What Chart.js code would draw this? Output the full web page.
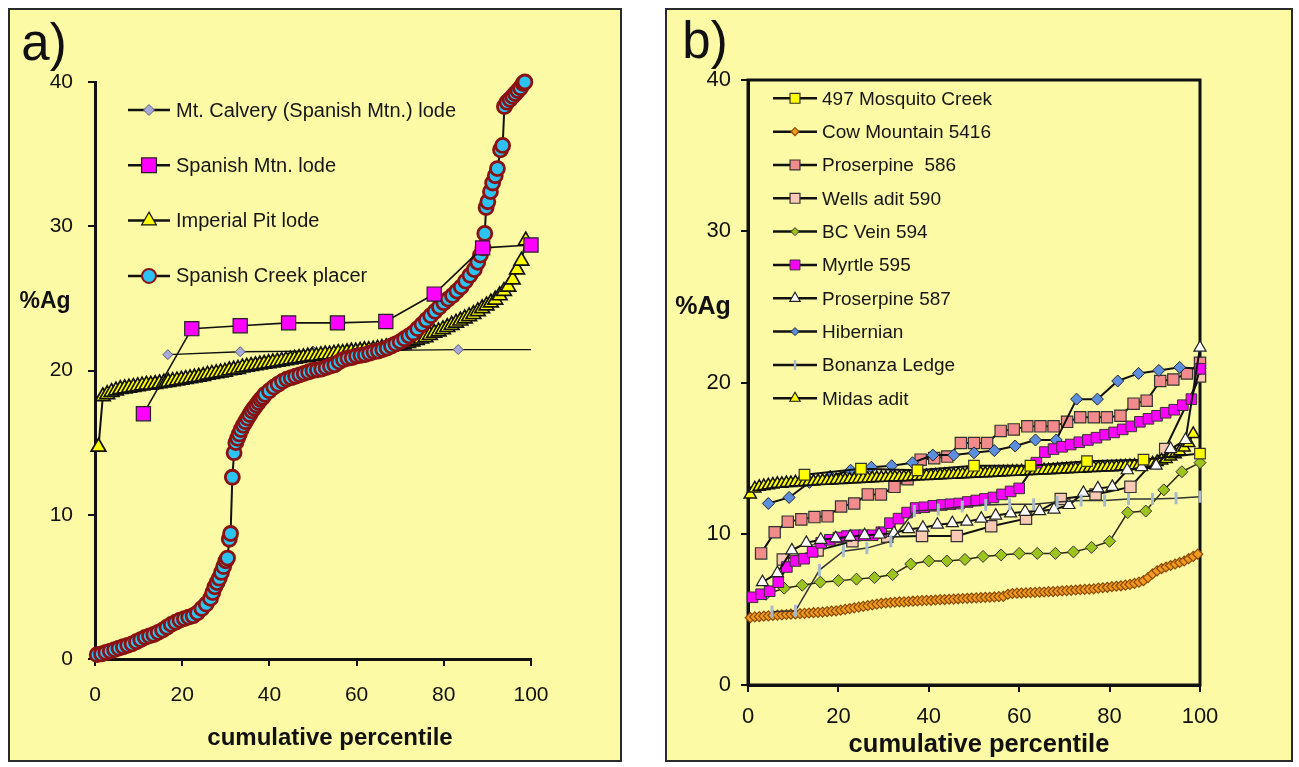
<!DOCTYPE html>
<html>
<head>
<meta charset="utf-8">
<title>%Ag versus cumulative percentile</title>
<script src="https://cdn.jsdelivr.net/npm/chart.js@4.4.1/dist/chart.umd.min.js"></script>
<style>
html,body{margin:0;padding:0;background:#ffffff;}
body{position:relative;width:1299px;height:767px;overflow:hidden;font-family:"Liberation Sans",Arial,Helvetica,sans-serif;color:#111;}
.panel{position:absolute;box-sizing:border-box;border:2px solid #2a2a2a;background:#FCFAA4;}
.panel canvas{position:absolute;left:0;top:0;}
.t{position:absolute;transform:translate(-50%,-50%);white-space:nowrap;line-height:1;color:#111;}
</style>
</head>
<body>
<div class="panel" style="left:8px;top:8px;width:614px;height:754px;"><canvas id="chartA" width="610" height="750"></canvas></div>
<div class="panel" style="left:665px;top:8px;width:628px;height:754px;"><canvas id="chartB" width="624" height="750"></canvas></div>
<div class="t" style="left:44px;top:42px;font-size:51px;">a)</div>
<div class="t" style="left:705px;top:40px;font-size:51px;">b)</div>
<div class="t" style="left:45px;top:300px;font-size:23px;font-weight:bold;">%Ag</div>
<div class="t" style="left:703px;top:305px;font-size:25px;font-weight:bold;">%Ag</div>
<div class="t" style="left:330px;top:737px;font-size:24px;font-weight:bold;">cumulative percentile</div>
<div class="t" style="left:979px;top:744px;font-size:25.5px;font-weight:bold;">cumulative percentile</div>
<script>
// ================= DATA =================
// shared tick values
const xTickValues = [0, 20, 40, 60, 80, 100];
const yTickValues = [0, 10, 20, 30, 40];

// ---------- panel a ----------
const seriesNamesA = ["Mt. Calvery (Spanish Mtn.) lode", "Spanish Mtn. lode", "Imperial Pit lode", "Spanish Creek placer"];

const calveryX = [16.7, 33.3, 50.0, 66.7, 83.3, 100];
const calveryY = [21.1, 21.3, 21.35, 21.4, 21.45, 21.45];

const spanMtnX = [11.1, 22.2, 33.3, 44.4, 55.6, 66.7, 77.8, 88.9, 100];
const spanMtnY = [17.0, 22.9, 23.1, 23.3, 23.3, 23.4, 25.3, 28.5, 28.7];

const imperialX = [
 0.8,1.8,2.8,3.8,4.8,5.8,6.8,7.8,8.8,9.8,
 10.8,11.8,12.8,13.8,14.8,15.8,16.8,17.8,18.8,19.8,
 20.8,21.8,22.8,23.8,24.8,25.8,26.8,27.8,28.8,29.8,
 30.8,31.8,32.8,33.8,34.8,35.8,36.8,37.8,38.8,39.8,
 40.8,41.8,42.8,43.8,44.8,45.8,46.8,47.8,48.8,49.8,
 50.8,51.8,52.8,53.8,54.8,55.8,56.8,57.8,58.8,59.8,
 60.8,61.8,62.8,63.8,64.8,65.8,66.8,67.8,68.8,69.8,
 70.8,71.8,72.8,73.8,74.8,75.8,76.8,77.8,78.8,79.8,
 80.8,81.8,82.8,83.8,84.8,85.8,86.8,87.8,88.8,89.8,
 90.8,91.8,92.8,93.8,94.8,95.8,96.8,97.8,98.8];
const imperialY = [
 14.7,18.2,18.35,18.5,18.6,18.7,18.75,18.8,18.85,18.9,
 18.95,19.0,19.0,19.05,19.1,19.15,19.2,19.25,19.3,19.35,
 19.4,19.45,19.5,19.55,19.6,19.7,19.75,19.8,19.85,19.9,
 20.0,20.05,20.1,20.2,20.25,20.3,20.35,20.4,20.45,20.5,
 20.55,20.6,20.65,20.7,20.75,20.8,20.85,20.9,20.95,21.0,
 21.0,21.05,21.1,21.1,21.15,21.2,21.2,21.25,21.3,21.3,
 21.35,21.4,21.4,21.45,21.5,21.55,21.6,21.65,21.7,21.75,
 21.8,21.9,22.0,22.1,22.2,22.3,22.45,22.6,22.7,22.85,
 23.0,23.15,23.3,23.45,23.6,23.75,23.9,24.1,24.3,24.5,
 24.7,24.9,25.2,25.5,25.8,26.3,27.0,27.6,29.0];

const placerX = [
 0.5,1.5,2.5,3.5,4.5,5.5,6.5,7.5,8.5,9.5,
 10.5,11.5,12.5,13.5,14.5,15.5,16.5,17.5,18.5,19.5,
 20.5,21.5,22.5,23.5,24.5,25.5,26.5,27.0,27.5,28.0,
 28.5,29.0,29.5,30.0,30.4,30.8,31.1,31.5,31.9,32.3,
 32.7,33.1,33.5,34.0,34.5,35.0,35.5,36.0,36.5,37.0,
 37.5,38.0,38.5,39.0,40,41,42,43,44,45,
 46,47,48,49,50,51,52,53,54,55,
 56,57,58,59,60,61,62,63,64,65,
 66,67,68,69,70,71,72,73,74,75,
 76,77,78,79,80,81,82,83,84,85,
 86,87,87.8,88.4,89.0,89.4,89.7,90.1,90.7,91.2,
 91.8,92.3,93.0,93.5,93.9,94.5,95.2,95.8,96.4,97.0,
 97.6,98.2,98.6];
const placerY = [
 0.3,0.35,0.45,0.55,0.65,0.75,0.85,0.95,1.05,1.2,
 1.35,1.5,1.6,1.7,1.85,2.0,2.2,2.4,2.55,2.7,
 2.8,2.9,3.0,3.2,3.5,3.8,4.2,4.6,5.0,5.3,
 5.6,6.0,6.4,6.8,7.0,8.3,8.7,12.6,14.3,15.0,
 15.3,15.6,15.9,16.2,16.45,16.7,16.95,17.2,17.4,17.6,
 17.8,18.0,18.15,18.35,18.6,18.85,19.05,19.25,19.4,19.5,
 19.6,19.7,19.8,19.9,20.0,20.05,20.1,20.2,20.3,20.4,
 20.6,20.75,20.85,20.9,21.0,21.05,21.1,21.2,21.3,21.35,
 21.45,21.55,21.7,21.85,22.0,22.2,22.4,22.6,22.9,23.2,
 23.5,23.8,24.1,24.4,24.7,24.95,25.2,25.5,25.8,26.2,
 26.6,27.0,27.5,28.0,28.5,29.5,31.3,31.7,32.4,33.0,
 33.5,34.0,35.3,35.6,38.3,38.6,38.8,39.0,39.2,39.4,
 39.6,39.9,40.0];

// ---------- panel b ----------
const seriesNamesB = ["497 Mosquito Creek", "Cow Mountain 5416", "Proserpine  586", "Wells adit 590", "BC Vein 594",
  "Myrtle 595", "Proserpine 587", "Hibernian", "Bonanza Ledge", "Midas adit"];

const mosquitoX = [12.5, 25, 37.5, 50, 62.5, 75, 87.5, 100];
const mosquitoY = [13.9, 14.3, 14.2, 14.5, 14.5, 14.8, 14.9, 15.3];

const cowX = [
 0.5,1.5,2.5,3.5,4.5,5.5,6.5,7.5,8.5,9.5,
 10.5,11.5,12.5,13.5,14.5,15.5,16.5,17.5,18.5,19.5,
 20.5,21.5,22.5,23.5,24.5,25.5,26.5,27.5,28.5,29.5,
 30.5,31.5,32.5,33.5,34.5,35.5,36.5,37.5,38.5,39.5,
 40.5,41.5,42.5,43.5,44.5,45.5,46.5,47.5,48.5,49.5,
 50.5,51.5,52.5,53.5,54.5,55.5,56.5,57.5,58.5,59.5,
 60.5,61.5,62.5,63.5,64.5,65.5,66.5,67.5,68.5,69.5,
 70.5,71.5,72.5,73.5,74.5,75.5,76.5,77.5,78.5,79.5,
 80.5,81.5,82.5,83.5,84.5,85.5,86.5,87.5,88.5,89.5,
 90.5,91.5,92.5,93.5,94.5,95.5,96.5,97.5,98.5,99.5];
const cowY = [
 4.45,4.5,4.52,4.55,4.57,4.6,4.62,4.64,4.66,4.68,
 4.7,4.72,4.74,4.76,4.78,4.8,4.82,4.85,4.88,4.9,
 4.95,5.0,5.05,5.1,5.15,5.2,5.25,5.3,5.35,5.4,
 5.42,5.45,5.47,5.5,5.5,5.52,5.54,5.56,5.58,5.6,
 5.6,5.62,5.64,5.65,5.67,5.68,5.7,5.72,5.73,5.75,
 5.76,5.78,5.79,5.8,5.82,5.84,5.86,6.0,6.05,6.07,
 6.08,6.1,6.11,6.12,6.14,6.15,6.17,6.18,6.2,6.22,
 6.24,6.26,6.28,6.3,6.32,6.34,6.36,6.4,6.43,6.46,
 6.5,6.53,6.56,6.6,6.65,6.72,6.8,6.9,7.1,7.35,
 7.55,7.7,7.8,7.9,8.0,8.1,8.2,8.35,8.5,8.65];

const pros586X = [2.9,5.9,8.8,11.8,14.7,17.6,20.6,23.5,26.5,29.4,32.4,35.3,38.2,41.2,44.1,47.1,50.0,
  52.9,55.9,58.8,61.8,64.7,67.6,70.6,73.5,76.5,79.4,82.4,85.3,88.2,91.2,94.1,97.1,100];
const pros586Y = [8.7,10.1,10.8,10.95,11.1,11.15,11.8,12.0,12.6,12.6,13.1,13.6,14.9,15.0,15.1,16.0,16.0,
  16.0,16.8,16.9,17.1,17.1,17.1,17.4,17.7,17.7,17.7,17.8,18.6,18.8,20.1,20.2,20.6,21.3];

const wellsX = [7.7,15.4,23.1,30.8,38.5,46.2,53.8,61.5,69.2,76.9,84.6,92.3,100];
const wellsY = [8.3,8.9,9.5,9.8,9.85,9.85,10.5,11.0,12.3,12.6,13.1,15.6,20.4];

const bcVeinX = [4,8,12,16,20,24,28,32,36,40,44,48,52,56,60,64,68,72,76,80,84,88,92,96,100];
const bcVeinY = [6.0,6.4,6.6,6.8,6.9,7.0,7.1,7.3,8.0,8.2,8.2,8.3,8.5,8.6,8.7,8.7,8.7,8.8,9.1,9.5,11.4,11.5,12.9,14.1,14.7];

const myrtleX = [1.0,2.9,4.8,6.7,8.6,10.5,12.4,14.3,16.2,18.1,20.0,21.9,23.8,25.7,27.6,29.5,31.4,33.3,35.2,37.1,
  39.0,41.0,42.9,44.8,46.7,48.6,50.5,52.4,54.3,56.2,58.1,60.0,63.8,65.7,67.6,69.5,71.4,73.3,75.2,77.1,
  79.0,81.0,82.9,84.8,86.7,88.6,90.5,92.4,94.3,96.2,98.1,100];
const myrtleY = [5.8,6.0,6.2,6.8,7.8,8.2,8.35,8.8,9.4,9.6,9.75,9.85,9.9,9.9,9.9,10.1,10.7,11.0,11.4,11.7,
  11.75,11.85,11.9,11.95,12.0,12.1,12.2,12.3,12.4,12.6,12.8,13.0,14.7,15.4,15.6,15.75,15.9,16.05,16.2,16.35,
  16.55,16.7,16.9,17.1,17.4,17.6,17.8,18.0,18.2,18.5,18.9,20.9];

const pros587X = [3.2,6.5,9.7,12.9,16.1,19.4,22.6,25.8,29.0,32.3,35.5,38.7,41.9,45.2,48.4,51.6,54.8,58.1,61.3,64.5,
  67.7,71.0,74.2,77.4,80.6,83.9,87.1,90.3,93.5,96.8,100];
const pros587Y = [6.8,7.4,8.9,9.4,9.6,9.7,9.8,9.9,9.95,10.05,10.3,10.4,10.6,10.7,10.8,11.0,11.2,11.35,11.45,11.5,
  11.6,11.9,12.7,13.0,13.1,14.2,14.4,14.5,15.6,16.2,22.3];

const hibernianX = [4.5,9.1,13.6,18.2,22.7,27.3,31.8,36.4,40.9,45.5,50.0,54.5,59.1,63.6,68.2,72.7,77.3,81.8,86.4,90.9,95.5,100];
const hibernianY = [12.0,12.4,13.4,13.8,14.2,14.4,14.5,14.7,15.2,15.2,15.35,15.5,15.8,16.2,16.2,18.9,18.9,20.1,20.6,20.8,21.0,20.9];

const bonanzaX = [5.3,10.5,15.8,21.1,26.3,31.6,36.8,42.1,47.4,52.6,57.9,63.2,68.4,73.7,78.9,84.2,89.5,94.7,100];
const bonanzaY = [4.85,4.9,7.6,8.85,9.05,9.5,11.5,11.6,11.8,11.9,11.95,11.95,12.1,12.2,12.2,12.3,12.3,12.35,12.45];

const midasX = [
 0.5,1.5,2.5,3.5,4.5,5.5,6.5,7.5,8.5,9.5,
 10.5,11.5,12.5,13.5,14.5,15.5,16.5,17.5,18.5,19.5,
 20.5,21.5,22.5,23.5,24.5,25.5,26.5,27.5,28.5,29.5,
 30.5,31.5,32.5,33.5,34.5,35.5,36.5,37.5,38.5,39.5,
 40.5,41.5,42.5,43.5,44.5,45.5,46.5,47.5,48.5,49.5,
 50.5,51.5,52.5,53.5,54.5,55.5,56.5,57.5,58.5,59.5,
 60.5,61.5,62.5,63.5,64.5,65.5,66.5,67.5,68.5,69.5,
 70.5,71.5,72.5,73.5,74.5,75.5,76.5,77.5,78.5,79.5,
 80.5,81.5,82.5,83.5,84.5,85.5,86.5,87.5,88.5,89.5,
 90.5,91.5,92.5,93.5,94.5,95.5,96.5,97.5,98.5];
const midasY = [
 12.6,13.0,13.1,13.15,13.2,13.25,13.3,13.3,13.35,13.35,
 13.4,13.4,13.42,13.45,13.45,13.48,13.5,13.5,13.52,13.55,
 13.55,13.57,13.6,13.6,13.62,13.64,13.65,13.67,13.68,13.7,
 13.7,13.72,13.73,13.74,13.75,13.76,13.78,13.8,13.81,13.82,
 13.84,13.85,13.86,13.88,13.9,13.9,13.92,13.94,13.95,13.97,
 13.98,14.0,14.0,14.02,14.04,14.05,14.06,14.08,14.1,14.1,
 14.12,14.14,14.15,14.16,14.18,14.2,14.2,14.22,14.24,14.25,
 14.26,14.28,14.3,14.3,14.32,14.34,14.35,14.36,14.38,14.4,
 14.4,14.42,14.44,14.46,14.48,14.5,14.53,14.56,14.6,14.65,
 14.75,14.85,14.95,15.1,15.25,15.45,15.7,16.0,16.6];

// ================= RENDERING =================
Chart.defaults.font.family = '"Liberation Sans", Arial, Helvetica, sans-serif';
Chart.defaults.color = '#111';

function toPoints(xs, ys) {
  const n = Math.min(xs.length, ys.length);
  const out = [];
  for (let i = 0; i < n; i++) out.push({x: xs[i], y: ys[i]});
  return out;
}
function series(label, xs, ys, style) {
  return Object.assign({label: label, data: toPoints(xs, ys), showLine: true, fill: false,
    tension: 0, clip: false, pointHoverRadius: 0}, style);
}

function drawMarker(ctx, ds, x, y) {
  ctx.save();
  ctx.fillStyle = ds.pointBackgroundColor;
  ctx.strokeStyle = ds.pointBorderColor;
  ctx.lineWidth = ds.legendBorderWidth || ds.pointBorderWidth;
  Chart.helpers.drawPoint(ctx, {pointStyle: ds.pointStyle, radius: ds.legendRadius,
    rotation: ds.pointRotation || 0, borderWidth: ctx.lineWidth}, x, y);
  ctx.restore();
}

const inLegend = {
  id: 'inLegend',
  afterDatasetsDraw(chart, args, o) {
    const ctx = chart.ctx;
    ctx.save();
    chart.data.datasets.forEach((ds, i) => {
      const y = o.y + i * o.dy;
      ctx.strokeStyle = '#111';
      ctx.lineWidth = o.lw;
      ctx.beginPath(); ctx.moveTo(o.x, y); ctx.lineTo(o.x + o.len, y); ctx.stroke();
      drawMarker(ctx, ds, o.x + o.len / 2, y);
      ctx.fillStyle = '#161616';
      ctx.font = o.font;
      ctx.textAlign = 'left';
      ctx.textBaseline = 'middle';
      ctx.fillText(ds.label, o.x + o.len + o.gap, y + 1);
    });
    ctx.restore();
  }
};

const plotFrame = {
  id: 'plotFrame',
  beforeDatasetsDraw(chart, args, o) {
    if (!o.on) return;
    const a = chart.chartArea, ctx = chart.ctx;
    ctx.save();
    ctx.strokeStyle = '#111';
    ctx.lineWidth = 3;
    ctx.strokeRect(a.left, a.top, a.right - a.left, a.bottom - a.top);
    ctx.restore();
  }
};

function scalesFor(o) {
  return {
    x: {type: 'linear', min: 0, max: 100,
      afterBuildTicks: s => { s.ticks = xTickValues.map(v => ({value: v})); },
      ticks: {color: '#111', font: {size: o.tf}, padding: o.xp, maxRotation: 0, autoSkip: false},
      grid: {display: true, drawOnChartArea: false, drawTicks: true, tickLength: 7, color: '#111', lineWidth: 2},
      border: {display: true, color: '#111', width: 3},
      afterFit: s => { s.height = o.xh; }},
    y: {type: 'linear', min: 0, max: 40,
      afterBuildTicks: s => { s.ticks = yTickValues.map(v => ({value: v})); },
      ticks: {color: '#111', font: {size: o.tf}, padding: o.yp, autoSkip: false},
      grid: {display: true, drawOnChartArea: false, drawTicks: true, tickLength: 7, color: '#111', lineWidth: 2},
      border: {display: true, color: '#111', width: 3},
      afterFit: s => { s.width = o.yw; }}
  };
}

// ---------- chart a ----------
const dsA = [
  series(seriesNamesA[0], calveryX, calveryY, {pointStyle: 'rectRot', pointRadius: [5, 5, 5, 5, 5, 0], legendRadius: 5.5,
    pointBackgroundColor: '#A9A9DC', pointBorderColor: '#5a5a70', pointBorderWidth: 1, borderColor: '#111', borderWidth: 1.3, order: 3}),
  series(seriesNamesA[1], spanMtnX, spanMtnY, {pointStyle: 'rect', pointRadius: 10, legendRadius: 10.5,
    pointBackgroundColor: '#FF00FF', pointBorderColor: '#222', pointBorderWidth: 1.2, borderColor: '#111', borderWidth: 1.6, order: 0}),
  series(seriesNamesA[2], imperialX, imperialY, {pointStyle: 'triangle', pointRadius: 8.5, legendRadius: 8.5,
    pointBackgroundColor: '#FFFF00', pointBorderColor: '#111', pointBorderWidth: 1.7, legendBorderWidth: 1.2, borderColor: '#111', borderWidth: 2, order: 2}),
  series(seriesNamesA[3], placerX, placerY, {pointStyle: 'circle', pointRadius: 7, legendRadius: 7,
    pointBackgroundColor: '#2CC3F2', pointBorderColor: '#8A1212', pointBorderWidth: 2.8, legendBorderWidth: 2, borderColor: '#111', borderWidth: 2, order: 1})
];

new Chart(document.getElementById('chartA'), {
  type: 'scatter',
  data: {datasets: dsA},
  plugins: [plotFrame, inLegend],
  options: {
    responsive: false, animation: false, events: [], devicePixelRatio: 1,
    layout: {padding: {left: 10, right: 89, top: 72, bottom: 0}},
    scales: scalesFor({tf: 21, xp: 17, yp: 15, xh: 101, yw: 75}),
    plugins: {legend: {display: false}, tooltip: {enabled: false},
      plotFrame: {on: false},
      inLegend: {x: 118, y: 100, dy: 55.3, len: 42, gap: 6, lw: 2.5, font: '20px "Liberation Sans", Arial, sans-serif'}}
  }
});

// ---------- chart b ----------
const dsB = [
  series(seriesNamesB[0], mosquitoX, mosquitoY, {pointStyle: 'rect', pointRadius: 7.5, legendRadius: 7,
    pointBackgroundColor: '#FFFF00', pointBorderColor: '#333', pointBorderWidth: 1.2, borderColor: '#111', borderWidth: 2, order: 0}),
  series(seriesNamesB[1], cowX, cowY, {pointStyle: 'rectRot', pointRadius: 5, legendRadius: 4,
    pointBackgroundColor: '#F29A1E', pointBorderColor: '#8a4a08', pointBorderWidth: 1.2, borderColor: '#333', borderWidth: 1.2, order: 9}),
  series(seriesNamesB[2], pros586X, pros586Y, {pointStyle: 'rect', pointRadius: 8, legendRadius: 7,
    pointBackgroundColor: '#F28C8C', pointBorderColor: '#333', pointBorderWidth: 1.2, borderColor: '#111', borderWidth: 2, order: 6}),
  series(seriesNamesB[3], wellsX, wellsY, {pointStyle: 'rect', pointRadius: 8, legendRadius: 7,
    pointBackgroundColor: '#FAC9B4', pointBorderColor: '#333', pointBorderWidth: 1.2, borderColor: '#111', borderWidth: 2, order: 7}),
  series(seriesNamesB[4], bcVeinX, bcVeinY, {pointStyle: 'rectRot', pointRadius: 6, legendRadius: 4,
    pointBackgroundColor: '#9DC41C', pointBorderColor: '#333', pointBorderWidth: 1, borderColor: '#2a2a10', borderWidth: 1.5, order: 8}),
  series(seriesNamesB[5], myrtleX, myrtleY, {pointStyle: 'rect', pointRadius: 7.5, legendRadius: 7,
    pointBackgroundColor: '#FF00FF', pointBorderColor: '#333', pointBorderWidth: 1, borderColor: '#111', borderWidth: 2, order: 3}),
  series(seriesNamesB[6], pros587X, pros587Y, {pointStyle: 'triangle', pointRadius: 7, legendRadius: 6,
    pointBackgroundColor: '#FFFFFF', pointBorderColor: '#222', pointBorderWidth: 1.2, borderColor: '#111', borderWidth: 2, order: 2}),
  series(seriesNamesB[7], hibernianX, hibernianY, {pointStyle: 'rectRot', pointRadius: 6, legendRadius: 4,
    pointBackgroundColor: '#5B8FDB', pointBorderColor: '#223', pointBorderWidth: 1, borderColor: '#111', borderWidth: 2, order: 5}),
  series(seriesNamesB[8], bonanzaX, bonanzaY, {pointStyle: 'line', pointRotation: 90, pointRadius: 6, legendRadius: 5,
    pointBackgroundColor: '#A9BACB', pointBorderColor: '#A9BACB', pointBorderWidth: 3, legendBorderWidth: 2.5, borderColor: '#333', borderWidth: 1.5, order: 1}),
  series(seriesNamesB[9], midasX, midasY, {pointStyle: 'triangle', pointRadius: 7, legendRadius: 6,
    pointBackgroundColor: '#FFFF00', pointBorderColor: '#111', pointBorderWidth: 1.5, legendBorderWidth: 1.1, borderColor: '#111', borderWidth: 2, order: 4})
];

new Chart(document.getElementById('chartB'), {
  type: 'scatter',
  data: {datasets: dsB},
  plugins: [plotFrame, inLegend],
  options: {
    responsive: false, animation: false, events: [], devicePixelRatio: 1,
    layout: {padding: {left: 10, right: 91, top: 70, bottom: 0}},
    scales: scalesFor({tf: 22, xp: 12, yp: 10, xh: 75, yw: 71}),
    plugins: {legend: {display: false}, tooltip: {enabled: false},
      plotFrame: {on: true},
      inLegend: {x: 106, y: 88.3, dy: 33.33, len: 44, gap: 5, lw: 2.5, font: '19px "Liberation Sans", Arial, sans-serif'}}
  }
});
</script>
</body>
</html>
